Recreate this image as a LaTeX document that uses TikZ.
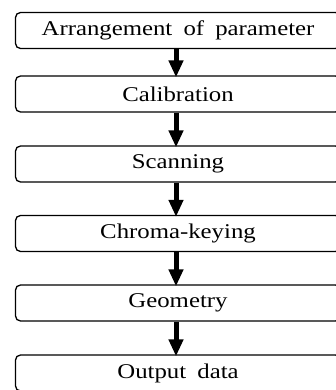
\documentclass[tikz,border=0pt]{standalone}
\usepackage{fontspec}
\setmainfont{Liberation Serif}[FakeStretch=1.18,WordSpace=1.8]
\usetikzlibrary{arrows.meta}
\tikzset{
  stagebox/.style={draw=black, line width=1.3pt, rounded corners=5pt,
    minimum width=325pt, minimum height=36pt, inner sep=0pt,
    font=\fontsize{21pt}{23pt}\selectfont},
  flowarrow/.style={line width=5pt,
    -{Triangle[width=14pt,length=17pt]}, shorten >=-2pt}
}
\begin{document}
\begin{tikzpicture}[x=1pt,y=1pt]
  \useasboundingbox (0,0) rectangle (336,-390);
  \node[stagebox] (arr)  at (178,-30.5) {Arrangement of parameter};
  \node[stagebox] (cal)  at (178,-94)   {Calibration};
  \node[stagebox] (scan) at (178,-164)  {Scanning};
  \node[stagebox] (chr)  at (178,-233.5){Chroma-keying};
  \node[stagebox] (geo)  at (178,-303)  {Geometry};
  \node[stagebox] (out)  at (178,-373)  {Output data};
  \draw[flowarrow] ([xshift=-2pt]arr.south)  -- ([xshift=-2pt]cal.north);
  \draw[flowarrow] ([xshift=-2pt]cal.south)  -- ([xshift=-2pt]scan.north);
  \draw[flowarrow] ([xshift=-2pt]scan.south) -- ([xshift=-2pt]chr.north);
  \draw[flowarrow] ([xshift=-2pt]chr.south)  -- ([xshift=-2pt]geo.north);
  \draw[flowarrow] ([xshift=-2pt]geo.south)  -- ([xshift=-2pt]out.north);
\end{tikzpicture}
\end{document}
